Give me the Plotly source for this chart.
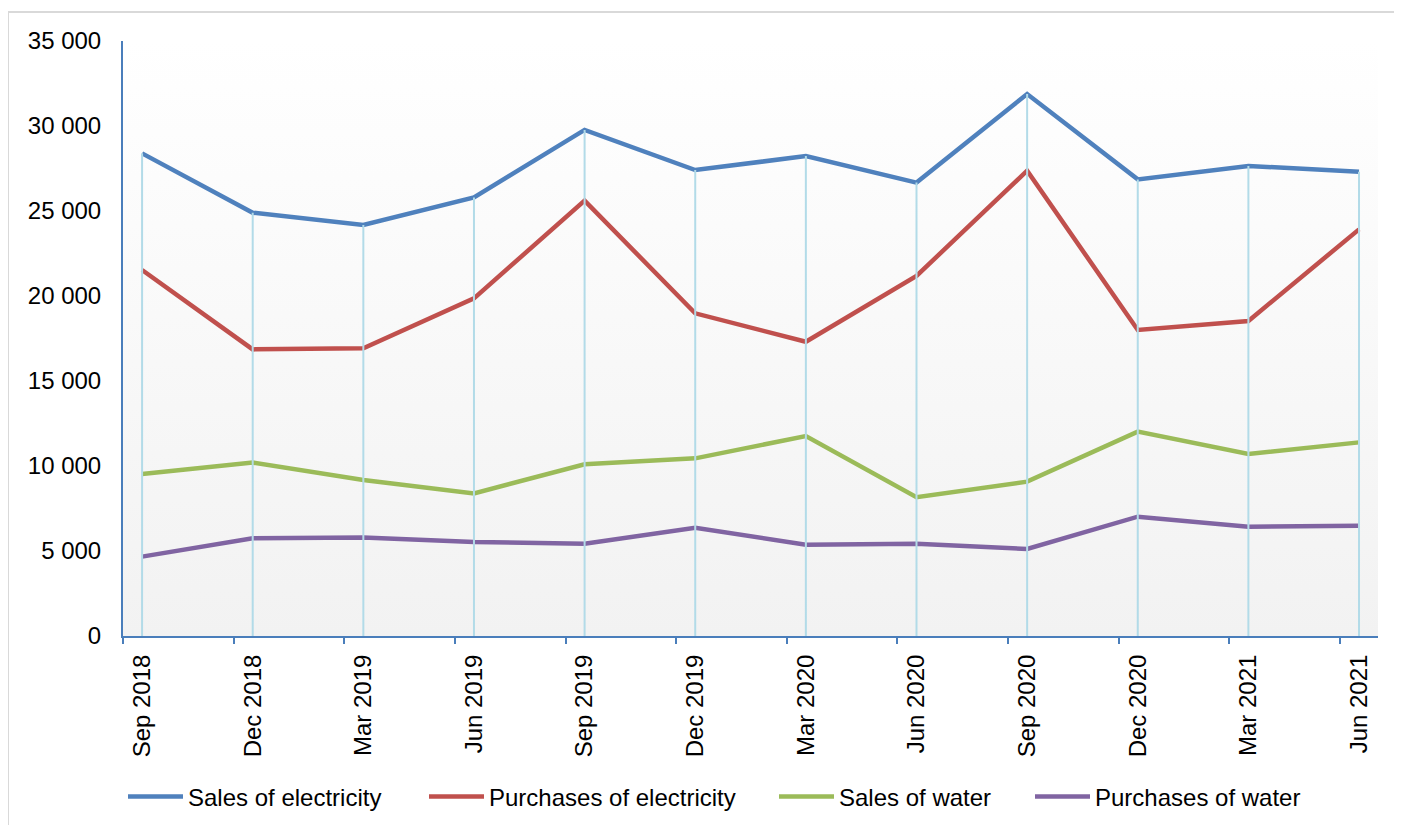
import plotly.graph_objects as go

# ---- data ----
quarters = ["Sep 2018", "Dec 2018", "Mar 2019", "Jun 2019", "Sep 2019", "Dec 2019",
            "Mar 2020", "Jun 2020", "Sep 2020", "Dec 2020", "Mar 2021", "Jun 2021"]
sales_electricity = [28390, 24900, 24180, 25800, 29770, 27410, 28230, 26670, 31880, 26860, 27650, 27310]
purchases_electricity = [21530, 16860, 16920, 19860, 25610, 18980, 17310, 21180, 27370, 18000, 18530, 23920]
sales_water = [9530, 10200, 9180, 8390, 10100, 10450, 11760, 8160, 9080, 12020, 10710, 11390]
purchases_water = [4670, 5750, 5800, 5530, 5430, 6370, 5370, 5430, 5120, 7020, 6430, 6490]
y_ticks = [0, 5000, 10000, 15000, 20000, 25000, 30000, 35000]

series = [
    ("Sales of electricity", sales_electricity, "#4f81bd", "legend"),
    ("Purchases of electricity", purchases_electricity, "#c0504d", "legend2"),
    ("Sales of water", sales_water, "#9bbb59", "legend3"),
    ("Purchases of water", purchases_water, "#8064a2", "legend4"),
]

# ---- layout geometry (page body has an 8px margin) ----
OFF = 8
W, H = 1402 - OFF, 825 - OFF
L, T = 123 - OFF, 41 - OFF
plot_w, plot_h = 1255, 595
R = W - L - plot_w
B = H - T - plot_h
x_lo, x_hi = -0.1725, 11.1716
y_lo, y_hi = 0, 35000
axis_col = "#4a7ebb"
font_family = "Liberation Sans, Arial, sans-serif"

idx = list(range(len(quarters)))

def px_to_paper_x(px):  # px in screen coordinates
    return (px - OFF - L) / plot_w

def px_to_paper_y(py):
    return (T + plot_h - (py - OFF)) / plot_h

fig = go.Figure()

# gradient plot-area background
fig.add_trace(go.Scatter(
    x=[x_lo, x_hi], y=[y_hi, y_hi], mode="lines", fill="tozeroy",
    line=dict(width=0), fillgradient=dict(type="vertical", start=y_lo, stop=y_hi,
                                          colorscale=[[0, "#f2f2f2"], [1, "#ffffff"]]),
    hoverinfo="skip", showlegend=False))

for name, vals, col, lg in series:
    fig.add_trace(go.Scatter(
        x=idx, y=vals, mode="lines", name=name,
        line=dict(color=col, width=4.5), legend=lg))

# drop lines from the highest value down to the axis
top = [max(v) for v in zip(*[s[1] for s in series])]
dx, dy = [], []
for i, t in zip(idx, top):
    dx += [i, i, None]
    dy += [t, y_lo, None]
fig.add_trace(go.Scatter(x=dx, y=dy, mode="lines", line=dict(color="#b2dbe8", width=2),
                         hoverinfo="skip", showlegend=False))

legend_px = [123, 424, 774, 1030]
legend_common = dict(orientation="h", yanchor="middle", y=px_to_paper_y(797), xanchor="left",
                     bgcolor="rgba(0,0,0,0)", font=dict(family=font_family, size=24, color="#000000"),
                     itemwidth=55, tracegroupgap=0)
legends = {}
for k, p in enumerate(legend_px):
    key = "legend" if k == 0 else f"legend{k + 1}"
    legends[key] = dict(legend_common, x=px_to_paper_x(p))

fig.update_layout(
    width=W, height=H,
    margin=dict(l=L, r=R, t=T, b=B, pad=0, autoexpand=False),
    paper_bgcolor="#ffffff", plot_bgcolor="rgba(0,0,0,0)",
    font=dict(family=font_family, size=24, color="#000000"),
    separators=". ",
    hovermode=False,
    **legends,
    xaxis=dict(range=[x_lo, x_hi], tickmode="array", tickvals=idx, ticktext=quarters,
               tickangle=-90, ticks="", showline=True, linecolor=axis_col, linewidth=2,
               showgrid=False, zeroline=False, ticklabelstandoff=7, automargin=False,
               tickfont=dict(family=font_family, size=24, color="#000000"),
               minor=dict(tickmode="array", tickvals=[x_lo + 0.0005 + k for k in range(12)],
                          ticks="outside", ticklen=6, tickwidth=2, tickcolor=axis_col,
                          showgrid=False)),
    yaxis=dict(range=[y_lo, y_hi], tickmode="array", tickvals=y_ticks, tickformat=",",
               ticks="", showline=True, linecolor=axis_col, linewidth=2,
               showgrid=False, zeroline=False, ticklabelstandoff=15, automargin=False,
               tickfont=dict(family=font_family, size=24, color="#000000")),
    shapes=[dict(type="rect", xref="paper", yref="paper",
                 x0=px_to_paper_x(8), x1=px_to_paper_x(1430),
                 y0=px_to_paper_y(850), y1=px_to_paper_y(12),
                 line=dict(color="#d9d9d9", width=2), layer="below")],
)

fig.write_html("out.html")
